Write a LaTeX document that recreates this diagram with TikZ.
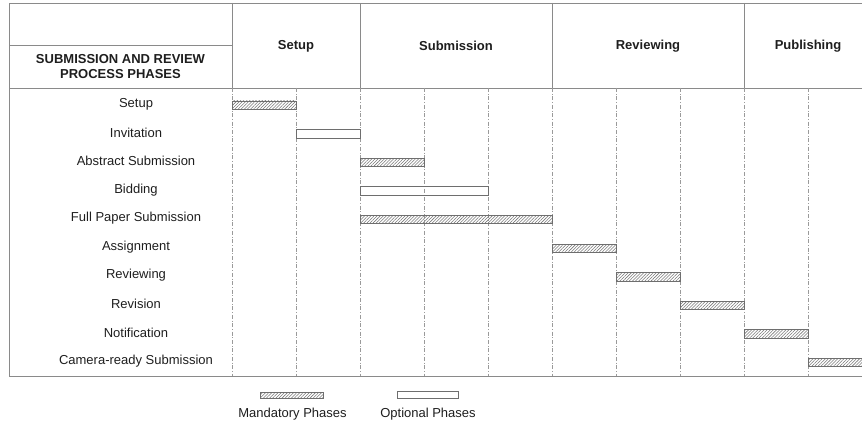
\documentclass[tikz,border=0pt]{standalone}
\usepackage{fontspec}
\setmainfont{Liberation Sans}
\usetikzlibrary{patterns.meta}
\definecolor{framec}{HTML}{8A8A8A}
\definecolor{gridc}{HTML}{9A9A9A}
\definecolor{barc}{HTML}{6E6E6E}
\definecolor{hatch}{HTML}{777777}
\definecolor{txt}{HTML}{1E1E1E}
\begin{document}
\begin{tikzpicture}[x=1pt,y=-1pt,
  lbl/.style={font=\fontsize{13}{14}\selectfont, text=txt, inner sep=0pt},
  hdr/.style={font=\fontsize{13}{15}\selectfont\bfseries, text=txt, inner sep=0pt, align=center},
  frameline/.style={draw=framec, line width=0.8pt},
  gridline/.style={draw=gridc, line width=0.6pt, dash pattern=on 4pt off 1.8pt on 0.8pt off 1.8pt},
  mand/.style={draw=barc, line width=0.9pt, pattern={Lines[angle=45,distance=2.2pt,line width=0.55pt]}, pattern color=hatch},
  opt/.style={draw=barc, line width=0.9pt}]

\useasboundingbox (0,0) rectangle (862,425);

\begin{scope}
\clip (0,0) rectangle (862,425);

% table frame and header cells
\draw[frameline] (880,3) -- (9,3) -- (9,376) -- (880,376);
\draw[frameline] (9,88) -- (880,88);
\draw[frameline] (9,45) -- (232,45);
\foreach \x in {232,360,552,744}
  \draw[frameline] (\x,3) -- (\x,88);

% time grid below the header
\foreach \k in {0,...,9}
  \draw[gridline] ({232+64*\k},88) -- ({232+64*\k},376);

% phase bars: row / first column / last column / kind
\foreach \i/\a/\b/\s in {0/0/1/mand, 1/1/2/opt, 2/2/3/mand, 3/2/4/opt, 4/2/5/mand,
                         5/5/6/mand, 6/6/7/mand, 7/7/8/mand, 8/8/9/mand, 9/9/10/mand}
  \draw[\s] ({232+64*\a},{101+28.6*\i}) rectangle ({232+64*\b},{109.5+28.6*\i});
\end{scope}

% header texts
\node[hdr] (title) at (120.5,66.5) {SUBMISSION AND REVIEW\\PROCESS PHASES};
\node[hdr] (pSetup) at (296,46) {Setup};
\node[hdr] (pSubmission) at (456,46) {Submission};
\node[hdr] (pReviewing) at (648,46) {Reviewing};
\node[hdr] (pPublishing) at (808,46) {Publishing};

% activity labels
\foreach \t [count=\i from 0] in {Setup, Invitation, Abstract Submission, Bidding,
    Full Paper Submission, Assignment, Reviewing, Revision, Notification,
    Camera-ready Submission}
  \node[lbl] (r\i) at (136,{104+28.6*\i}) {\t};

% legend
\node[mand, minimum width=63pt, minimum height=6pt, inner sep=0pt] (kMand) at (291.5,395.5) {};
\node[opt, minimum width=61pt, minimum height=6.5pt, inner sep=0pt] (kOpt) at (427.5,395) {};
\node[lbl] (tMand) at (292.5,414) {Mandatory Phases};
\node[lbl] (tOpt) at (428,414) {Optional Phases};
\end{tikzpicture}
\end{document}
